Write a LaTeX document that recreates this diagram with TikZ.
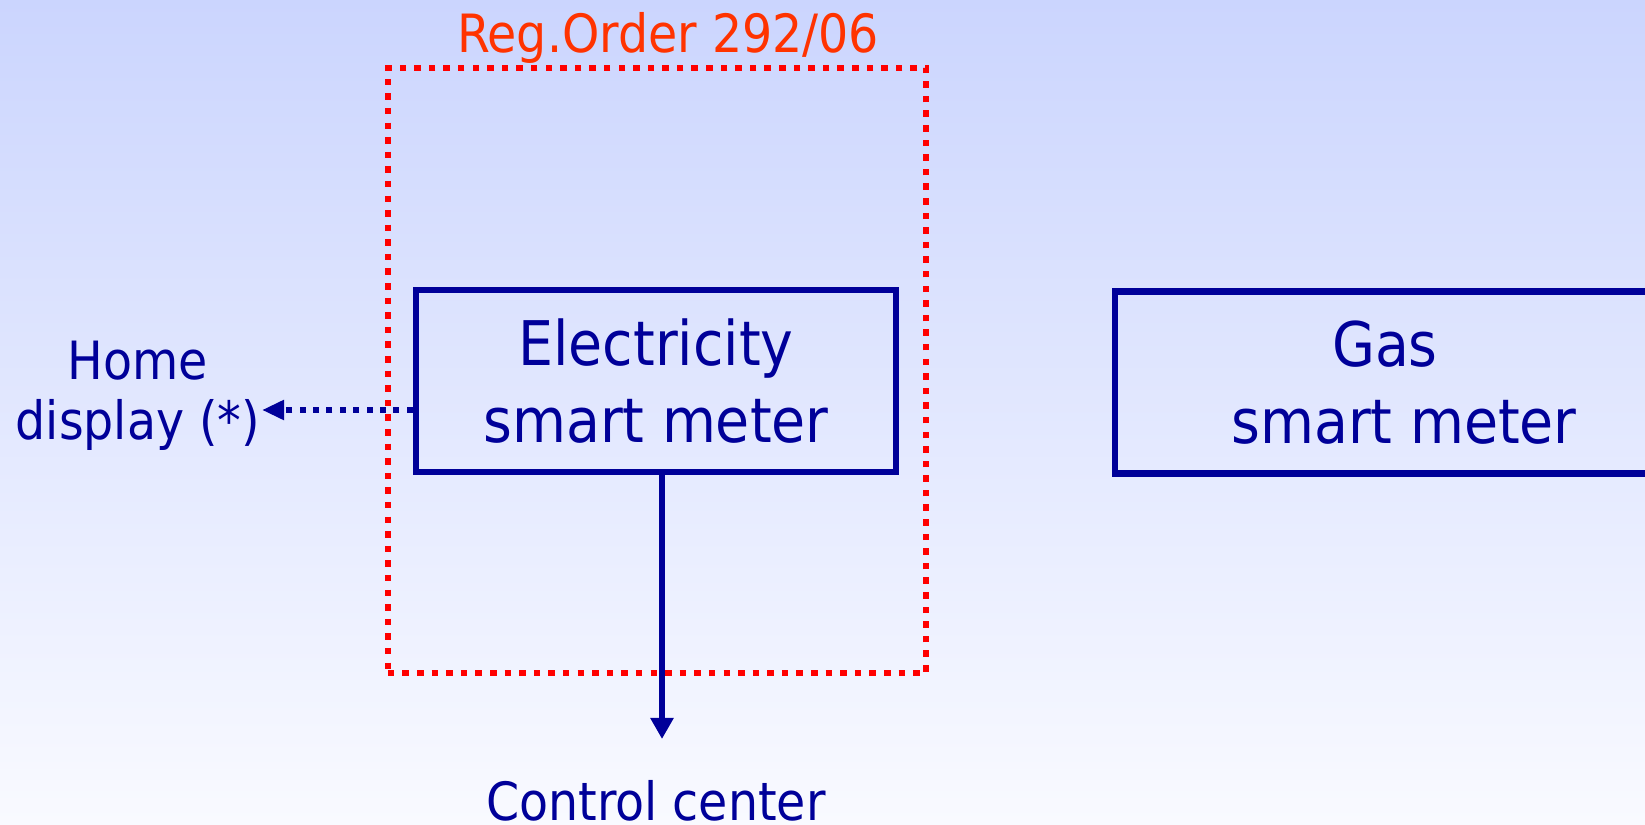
\documentclass[tikz,border=0pt]{standalone}
\usepackage{fontspec}
\setmainfont{DejaVu Sans Condensed}
\usepackage{tikz}
\usetikzlibrary{positioning,arrows.meta}
\definecolor{meter}{RGB}{0,0,153}
\definecolor{regred}{RGB}{255,0,0}
\definecolor{ordertext}{RGB}{255,51,0}
\definecolor{bgtop}{RGB}{203,213,254}
\definecolor{bgbottom}{RGB}{249,250,255}

\begin{document}
\begin{tikzpicture}[x=0.01cm, y=-0.01cm,
    meterbox/.style={draw=meter, line width=1.85pt, text=meter, align=center,
      minimum width=4.8cm, minimum height=1.82cm, inner sep=0pt,
      font=\fontsize{17.5}{21.9}\selectfont},
    plaintext/.style={text=meter, align=center, inner sep=0pt,
      font=\fontsize{15}{17.1}\selectfont},
    regframe/.style={draw=regred, line width=1.85pt, dash pattern=on 1.85pt off 2.3pt,
      minimum width=5.38cm, minimum height=6.05cm, inner sep=0pt},
    linkdotted/.style={meter, line width=1.7pt, dash pattern=on 1.7pt off 2.1pt,
      -{Triangle[length=6.3pt, width=5.4pt]}},
    linksolid/.style={meter, line width=1.85pt, -{Triangle[length=6pt, width=6.3pt]}}]
  \useasboundingbox (0,0) rectangle (1645,824);
  \clip (0,0) rectangle (1645,824);
  \shade[top color=bgtop, bottom color=bgbottom] (0,0) rectangle (1645,824);

  \node[regframe] (reg) at (657,370.5) {};
  \node[text=ordertext, inner sep=0pt, anchor=base, font=\fontsize{15}{18}\selectfont]
    (regname) at (668,52) {Reg.Order 292/06};

  \node[meterbox] (elec) at (656,381) {Electricity\\smart meter};
  \node[meterbox, minimum width=5.6cm] (gas) at (1395,382.5)
    {Gas\kern0.2cm\\\kern0.18cm smart meter};

  \node[plaintext] (home) at (138,396) {Home\\display (*)};
  \node[plaintext, anchor=base] (ctrl) at (656,820) {Control center};

  \coordinate (homein) at (262,410);
  \coordinate (ctrlin) at (662,739);
  \draw[linkdotted] (elec.west |- homein) -- (homein);
  \draw[linksolid] (elec.south -| ctrlin) -- (ctrlin);
\end{tikzpicture}
\end{document}
